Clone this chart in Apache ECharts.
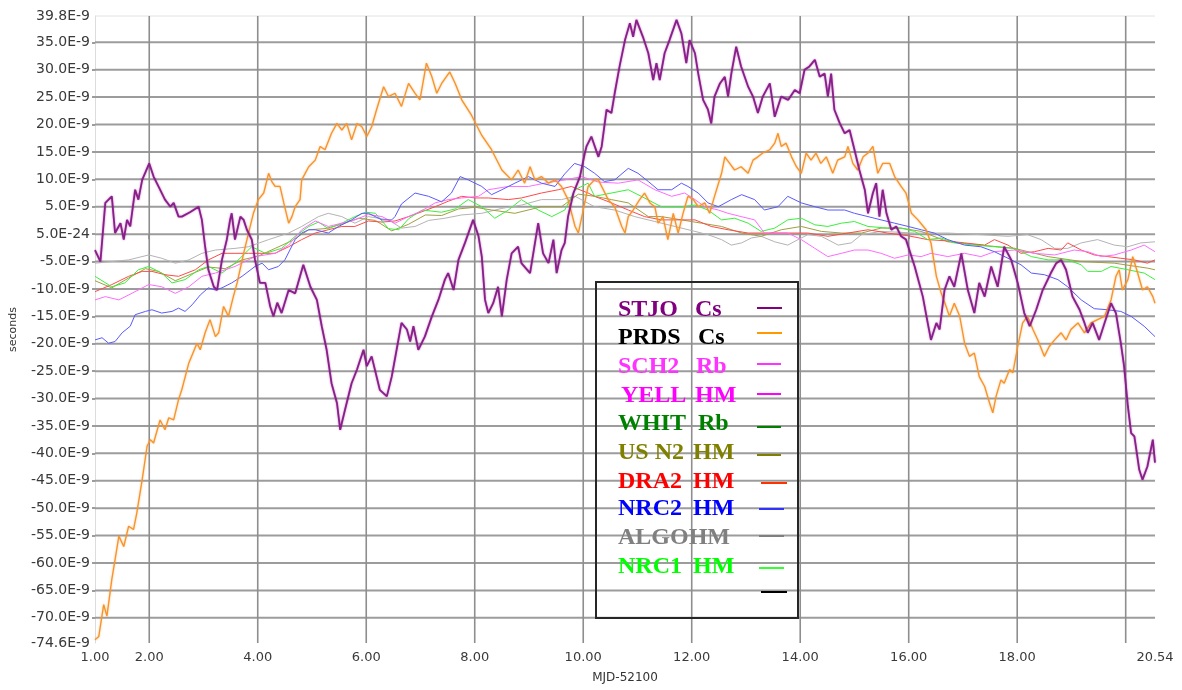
<!DOCTYPE html>
<html>
<head>
<meta charset="utf-8">
<title>Clock offsets</title>
<script src="https://cdn.jsdelivr.net/npm/echarts@6/dist/echarts.min.js"></script>
<style>
  html, body { margin: 0; padding: 0; background: #fff; }
  #chart { width: 1182px; height: 690px; }
</style>
</head>
<body>
<div id="chart"></div>
<script>
// ---- axis ticks -------------------------------------------------------
const xLabelValues = [1, 2, 4, 6, 8, 10, 12, 14, 16, 18, 20.54];
const xGridValues = [2, 4, 6, 8, 10, 12, 14, 16, 18, 20];
const yLabelValues = [-74.6, -70, -65, -60, -55, -50, -45, -40, -35, -30, -25, -20, -15, -10, -5, 0, 5, 10, 15, 20, 25, 30, 35, 39.8];
const yLabelTexts = ['-74.6E-9', '-70.0E-9', '-65.0E-9', '-60.0E-9', '-55.0E-9', '-50.0E-9', '-45.0E-9', '-40.0E-9', '-35.0E-9', '-30.0E-9', '-25.0E-9', '-20.0E-9', '-15.0E-9', '-10.0E-9', '-5.0E-9', '5.0E-24', '5.0E-9', '10.0E-9', '15.0E-9', '20.0E-9', '25.0E-9', '30.0E-9', '35.0E-9', '39.8E-9'];
const yGridValues = [-70, -65, -60, -55, -50, -45, -40, -35, -30, -25, -20, -15, -10, -5, 0, 5, 10, 15, 20, 25, 30, 35];

// ---- legend entries ---------------------------------------------------
const legendNames = ['STJO', 'PRDS', 'SCH2', 'YELL', 'WHIT', 'US N2', 'DRA2', 'NRC2', 'ALGOHM', 'NRC1', ''];
const legendKinds = ['Cs', 'Cs', 'Rb', 'HM', 'Rb', 'HM', 'HM', 'HM', '', 'HM', ''];

// ---- series: [MJD-52100, offset in ns] ----------------------------------
const stjo = [[1.00,-2.9],[1.10,-5.0],[1.19,5.7],[1.31,6.9],[1.37,0.2],[1.47,2.0],[1.53,-1.0],[1.59,2.6],[1.65,1.4],[1.74,8.1],[1.80,6.3],[1.87,9.9],[2.00,12.9],[2.08,10.5],[2.17,8.7],[2.29,6.3],[2.39,5.0],[2.45,5.7],[2.54,3.2],[2.60,3.2],[2.75,4.0],[2.91,5.0],[2.97,2.6],[3.03,-2.3],[3.09,-6.5],[3.19,-9.6],[3.25,-10.2],[3.34,-4.7],[3.43,-1.0],[3.49,2.6],[3.52,3.8],[3.58,-1.0],[3.68,3.2],[3.74,2.6],[3.80,0.8],[3.89,-1.0],[3.95,-4.7],[4.04,-8.9],[4.14,-8.9],[4.23,-13.2],[4.29,-15.0],[4.36,-12.5],[4.44,-14.4],[4.57,-10.2],[4.69,-10.8],[4.84,-5.6],[4.97,-9.6],[5.09,-12.0],[5.18,-16.8],[5.27,-21.1],[5.36,-27.2],[5.46,-30.8],[5.52,-35.7],[5.61,-32.0],[5.73,-27.2],[5.83,-24.7],[5.95,-21.1],[6.01,-24.1],[6.10,-22.3],[6.25,-28.4],[6.38,-29.6],[6.47,-26.0],[6.56,-21.1],[6.65,-16.2],[6.75,-17.4],[6.81,-19.6],[6.87,-16.8],[6.96,-21.1],[7.08,-18.7],[7.21,-15.0],[7.33,-12.0],[7.45,-8.3],[7.51,-7.1],[7.61,-10.2],[7.70,-4.7],[7.82,-1.6],[7.97,2.6],[8.07,-0.4],[8.13,-4.1],[8.19,-12.0],[8.25,-14.4],[8.34,-12.6],[8.43,-9.6],[8.50,-15.0],[8.59,-8.3],[8.68,-3.5],[8.80,-2.3],[8.86,-5.3],[9.02,-7.1],[9.17,2.0],[9.26,-3.5],[9.36,-5.3],[9.45,-1.0],[9.51,-7.1],[9.60,-2.9],[9.66,-1.6],[9.72,3.2],[9.82,7.5],[9.94,10.5],[10.03,14.8],[10.06,16.0],[10.15,17.8],[10.28,14.1],[10.34,16.0],[10.43,22.7],[10.52,22.1],[10.58,25.7],[10.67,30.6],[10.77,35.4],[10.86,38.5],[10.92,36.0],[10.98,39.1],[11.10,36.0],[11.20,33.0],[11.29,28.1],[11.35,31.2],[11.41,28.1],[11.50,33.0],[11.59,35.4],[11.72,39.1],[11.81,36.6],[11.90,31.2],[11.96,35.4],[12.06,33.0],[12.12,29.3],[12.21,24.5],[12.30,22.7],[12.36,20.2],[12.42,25.1],[12.52,27.5],[12.61,28.7],[12.67,25.1],[12.73,29.3],[12.82,34.2],[12.91,30.6],[13.04,26.9],[13.13,25.1],[13.22,22.1],[13.31,25.1],[13.44,27.5],[13.53,21.4],[13.65,25.1],[13.78,24.5],[13.90,26.3],[13.99,25.7],[14.08,30.0],[14.17,30.6],[14.27,31.8],[14.36,28.7],[14.45,29.3],[14.51,25.1],[14.57,29.3],[14.63,22.7],[14.73,20.2],[14.82,18.4],[14.91,19.0],[15.00,15.4],[15.09,11.7],[15.19,8.1],[15.25,3.8],[15.34,7.5],[15.40,9.3],[15.46,3.2],[15.52,8.1],[15.59,3.8],[15.68,0.8],[15.77,1.4],[15.86,-0.4],[15.95,-1.0],[16.11,-5.9],[16.26,-11.4],[16.35,-16.2],[16.41,-19.3],[16.51,-16.2],[16.57,-17.4],[16.66,-10.2],[16.75,-7.7],[16.84,-9.6],[16.97,-3.5],[17.09,-10.2],[17.21,-14.4],[17.30,-8.9],[17.40,-11.4],[17.52,-5.9],[17.64,-9.6],[17.76,-2.3],[17.89,-4.7],[18.01,-8.9],[18.13,-14.4],[18.23,-16.8],[18.35,-13.8],[18.47,-10.2],[18.62,-7.1],[18.72,-5.3],[18.81,-4.7],[18.90,-6.5],[19.02,-11.4],[19.15,-13.8],[19.24,-16.2],[19.30,-18.0],[19.39,-16.2],[19.51,-19.3],[19.61,-16.2],[19.73,-12.6],[19.82,-14.4],[19.91,-19.9],[19.97,-24.1],[20.04,-31.4],[20.10,-36.3],[20.16,-36.9],[20.25,-43.0],[20.31,-44.8],[20.40,-42.4],[20.50,-37.5],[20.54,-41.7]];

const prds = [[1.00,-74.0],[1.07,-73.4],[1.16,-67.6],[1.22,-69.7],[1.31,-63.0],[1.37,-59.4],[1.44,-55.1],[1.53,-57.0],[1.62,-53.3],[1.71,-53.9],[1.77,-50.9],[1.87,-44.8],[1.96,-38.7],[2.02,-37.5],[2.08,-38.1],[2.20,-33.9],[2.29,-35.7],[2.36,-33.5],[2.45,-33.9],[2.54,-30.2],[2.60,-28.4],[2.73,-23.5],[2.88,-19.9],[2.94,-21.1],[3.03,-18.0],[3.12,-15.6],[3.22,-18.7],[3.28,-18.0],[3.37,-13.2],[3.46,-15.0],[3.55,-11.4],[3.62,-8.9],[3.74,-3.5],[3.83,0.2],[3.92,3.8],[4.01,6.3],[4.11,7.5],[4.20,11.1],[4.26,9.6],[4.32,8.7],[4.41,8.7],[4.48,5.7],[4.57,2.0],[4.63,3.2],[4.69,5.0],[4.78,6.3],[4.81,9.9],[4.94,12.3],[5.06,13.5],[5.15,16.0],[5.24,15.4],[5.36,18.4],[5.46,20.2],[5.55,19.0],[5.64,20.2],[5.73,17.2],[5.83,20.2],[5.92,19.6],[6.01,17.8],[6.10,19.6],[6.19,22.7],[6.32,26.9],[6.41,25.1],[6.53,25.7],[6.65,23.3],[6.78,27.5],[6.90,25.7],[6.99,24.5],[7.11,31.2],[7.21,28.7],[7.30,25.7],[7.39,27.5],[7.54,29.6],[7.64,27.5],[7.76,24.5],[7.94,21.7],[8.13,18.0],[8.31,15.4],[8.50,11.7],[8.68,9.9],[8.80,11.7],[8.92,9.3],[9.02,12.3],[9.11,9.9],[9.23,10.5],[9.36,9.3],[9.48,9.9],[9.60,8.7],[9.72,6.3],[9.85,1.4],[9.91,0.2],[10.00,4.4],[10.09,8.7],[10.21,9.9],[10.28,9.9],[10.37,8.1],[10.46,6.3],[10.58,5.0],[10.71,1.4],[10.77,0.2],[10.83,3.2],[10.92,4.4],[11.04,6.3],[11.13,7.5],[11.23,5.7],[11.32,5.0],[11.38,2.0],[11.47,3.2],[11.56,-1.0],[11.66,3.8],[11.75,0.2],[11.84,3.8],[11.93,6.9],[12.03,6.3],[12.12,5.0],[12.24,5.7],[12.33,3.8],[12.42,6.9],[12.55,11.1],[12.61,14.1],[12.70,12.9],[12.79,11.7],[12.91,12.3],[13.04,11.1],[13.13,13.5],[13.22,14.1],[13.31,14.8],[13.44,15.4],[13.53,16.6],[13.59,18.4],[13.65,16.0],[13.74,16.6],[13.84,14.1],[13.93,12.3],[14.02,11.1],[14.11,14.8],[14.20,13.5],[14.29,14.8],[14.38,12.9],[14.48,14.1],[14.60,11.1],[14.69,13.5],[14.82,14.1],[14.88,16.0],[14.97,12.9],[15.06,11.7],[15.16,14.1],[15.25,14.8],[15.34,16.0],[15.43,11.1],[15.52,12.9],[15.65,12.9],[15.74,10.5],[15.86,8.7],[15.95,7.5],[16.05,3.8],[16.17,2.6],[16.32,0.8],[16.41,-1.6],[16.51,-7.7],[16.60,-10.8],[16.69,-13.2],[16.75,-15.0],[16.84,-12.6],[16.94,-15.0],[17.03,-19.9],[17.12,-22.3],[17.21,-21.7],[17.30,-26.0],[17.40,-27.8],[17.49,-30.8],[17.55,-32.6],[17.61,-29.6],[17.70,-26.6],[17.76,-27.2],[17.86,-24.7],[17.92,-25.3],[18.01,-20.5],[18.10,-16.2],[18.19,-15.0],[18.29,-17.4],[18.38,-19.3],[18.50,-22.3],[18.59,-20.5],[18.69,-19.3],[18.81,-18.0],[18.90,-19.3],[18.99,-17.4],[19.12,-16.2],[19.24,-18.0],[19.36,-16.2],[19.48,-15.6],[19.61,-15.0],[19.73,-12.0],[19.82,-7.7],[19.88,-6.5],[19.94,-10.2],[20.04,-8.3],[20.13,-4.1],[20.22,-7.1],[20.31,-10.2],[20.40,-9.6],[20.50,-11.4],[20.54,-12.6]];

const sch2 = [[1.00,-12.0],[1.19,-11.4],[1.44,-12.0],[1.68,-10.8],[1.99,-9.2],[2.23,-9.6],[2.48,-10.8],[2.73,-9.6],[2.97,-7.7],[3.22,-7.1],[3.58,-5.9],[3.95,-4.1],[4.32,-3.5],[4.57,-2.0],[4.81,0.8],[5.06,2.4],[5.30,1.4],[5.55,2.0],[5.79,2.6],[6.04,3.6],[6.29,3.2],[6.53,2.0],[6.78,3.2],[7.03,4.3],[7.27,5.7],[7.51,6.3],[7.76,6.6],[8.07,6.9],[8.25,8.1],[8.62,8.7],[8.99,8.7],[9.29,9.3],[9.66,9.9],[9.97,10.5],[10.28,9.5],[10.65,9.3],[11.01,9.9],[11.32,8.1],[11.63,6.9],[11.87,7.5],[12.06,6.3],[12.24,5.0],[12.49,4.4],[12.67,3.8],[12.91,3.2],[13.16,2.6],[13.34,0.2],[13.53,0.2],[13.77,0.2],[14.02,-1.0],[14.27,-2.6],[14.51,-4.1],[14.76,-3.5],[15.00,-2.9],[15.25,-2.9],[15.49,-3.5],[15.74,-4.4],[15.99,-3.8],[16.23,-4.1],[16.41,-3.5],[16.72,-4.1],[17.03,-3.5],[17.33,-4.1],[17.58,-3.2],[17.95,-2.9],[18.32,-3.5],[18.69,-3.8],[19.05,-2.9],[19.30,-3.2],[19.55,-4.1],[19.79,-3.8],[20.10,-2.9],[20.34,-2.0],[20.54,-3.2]];

const usn2 = [[1.00,-8.5],[1.31,-9.8],[1.62,-8.0],[1.93,-6.3],[2.17,-6.8],[2.48,-8.5],[2.79,-7.2],[3.09,-6.0],[3.40,-6.3],[3.71,-4.7],[4.01,-4.0],[4.32,-2.6],[4.63,-1.2],[4.94,0.8],[5.24,1.0],[5.55,1.8],[5.86,2.9],[6.17,2.5],[6.47,0.6],[6.78,1.8],[7.09,3.5],[7.39,3.4],[7.70,4.6],[8.01,4.9],[8.31,4.4],[8.74,3.8],[9.23,5.0],[9.60,5.0],[9.91,7.3],[10.21,6.9],[10.52,6.3],[10.83,5.7],[11.20,3.2],[11.44,3.2],[11.81,2.6],[12.18,2.0],[12.55,1.4],[12.92,0.2],[13.28,-0.4],[13.65,0.8],[14.02,1.4],[14.39,0.5],[14.76,0.2],[15.13,0.2],[15.49,1.1],[15.86,1.1],[16.23,0.5],[16.72,-1.4],[17.33,-2.0],[17.95,-2.6],[18.57,-4.1],[19.18,-5.0],[19.79,-5.3],[20.40,-6.2],[20.54,-6.5]];

const dra2 = [[1.00,-10.5],[1.31,-9.2],[1.62,-7.7],[1.87,-6.8],[2.05,-6.8],[2.29,-7.4],[2.54,-7.7],[2.85,-6.5],[3.09,-4.7],[3.34,-3.5],[3.58,-3.5],[3.83,-3.5],[4.08,-3.5],[4.32,-3.5],[4.57,-2.3],[4.81,-1.0],[5.06,0.2],[5.30,0.8],[5.55,1.4],[5.79,1.4],[6.04,2.4],[6.29,2.2],[6.53,2.4],[6.78,3.2],[7.03,4.1],[7.27,5.0],[7.51,6.0],[7.76,6.9],[8.01,6.6],[8.25,6.6],[8.62,6.3],[8.86,6.6],[9.23,7.5],[9.54,8.1],[9.78,8.7],[10.09,7.5],[10.21,6.9],[10.52,5.7],[10.83,4.4],[11.13,3.2],[11.44,2.6],[11.75,2.6],[12.06,2.6],[12.36,1.4],[12.67,0.8],[13.04,0.2],[13.41,0.2],[13.77,0.2],[14.14,0.2],[14.51,-0.4],[14.88,0.2],[15.25,0.8],[15.61,0.2],[15.99,-0.3],[16.35,-1.0],[16.66,-1.2],[17.03,-1.6],[17.40,-2.0],[17.58,-1.0],[17.83,-2.0],[18.07,-3.5],[18.32,-3.2],[18.57,-2.6],[18.81,-2.9],[18.93,-1.6],[19.18,-2.9],[19.42,-3.8],[19.67,-4.1],[19.91,-4.4],[20.16,-4.7],[20.40,-5.3],[20.54,-4.7]];

const nrc2 = [[1.00,-19.3],[1.13,-18.9],[1.25,-19.9],[1.37,-19.6],[1.50,-18.0],[1.65,-16.8],[1.74,-14.7],[1.93,-14.1],[2.05,-13.8],[2.23,-14.4],[2.42,-14.1],[2.54,-13.5],[2.66,-14.1],[2.79,-12.9],[2.94,-11.1],[3.09,-9.8],[3.22,-10.2],[3.34,-9.8],[3.52,-8.9],[3.71,-7.7],[3.95,-5.9],[4.08,-5.3],[4.20,-6.5],[4.38,-5.9],[4.50,-4.7],[4.69,-1.0],[4.81,0.2],[4.94,0.8],[5.06,0.8],[5.30,0.2],[5.49,1.4],[5.73,2.6],[5.92,3.8],[6.04,3.8],[6.29,2.6],[6.47,2.6],[6.53,3.2],[6.65,5.5],[6.90,7.5],[7.15,6.9],[7.39,5.9],[7.57,7.5],[7.73,10.5],[7.88,9.9],[8.13,8.7],[8.31,7.2],[8.50,8.1],[8.74,9.3],[8.99,10.5],[9.23,9.3],[9.48,8.7],[9.66,11.0],[9.84,12.9],[10.03,12.3],[10.21,11.1],[10.39,9.6],[10.58,9.9],[10.83,12.0],[11.01,11.1],[11.20,9.6],[11.38,8.1],[11.63,8.1],[11.81,9.3],[11.93,8.7],[12.12,7.5],[12.30,5.7],[12.49,5.0],[12.73,6.3],[12.92,7.2],[13.16,6.3],[13.34,4.4],[13.59,5.0],[13.77,6.9],[14.02,5.7],[14.27,5.0],[14.51,4.4],[14.82,4.4],[15.00,3.8],[15.25,3.2],[15.49,2.6],[15.74,2.0],[15.99,1.4],[16.23,0.8],[16.47,0.2],[16.72,-1.0],[17.03,-2.0],[17.33,-2.3],[17.58,-3.2],[17.83,-4.4],[18.07,-5.6],[18.26,-7.1],[18.50,-7.4],[18.75,-8.3],[18.93,-9.6],[19.18,-12.0],[19.42,-13.6],[19.67,-13.8],[19.91,-14.1],[20.10,-15.0],[20.34,-16.8],[20.54,-18.7]];

const algo = [[1.00,-5.3],[1.31,-5.0],[1.62,-4.7],[1.99,-3.8],[2.23,-4.4],[2.48,-5.3],[2.73,-4.7],[2.97,-3.5],[3.22,-2.9],[3.58,-2.6],[3.83,-2.3],[4.20,-1.0],[4.57,0.2],[4.81,1.4],[5.12,3.2],[5.30,3.8],[5.55,3.2],[5.79,2.0],[6.04,3.2],[6.41,2.6],[6.65,1.1],[6.90,1.4],[7.15,2.5],[7.45,2.9],[7.76,3.5],[8.13,3.8],[8.50,4.7],[8.86,5.3],[9.23,6.3],[9.60,6.3],[9.85,6.9],[10.21,5.0],[10.58,4.4],[10.95,3.2],[11.32,2.3],[11.69,1.4],[12.06,0.5],[12.30,-0.1],[12.55,-1.0],[12.73,-2.0],[12.92,-1.6],[13.10,-0.7],[13.28,-0.4],[13.53,-1.4],[13.77,-2.0],[13.96,-1.0],[14.14,-0.1],[14.39,-0.4],[14.70,-2.0],[14.94,-1.6],[15.13,-0.1],[15.49,0.5],[16.11,0.2],[16.72,0.2],[17.33,-0.1],[17.83,-0.4],[18.19,-0.1],[18.44,-1.0],[18.69,-2.6],[18.93,-2.6],[19.18,-1.6],[19.48,-1.0],[19.79,-2.0],[20.04,-2.3],[20.28,-1.6],[20.54,-1.4]];

const nrc1 = [[1.00,-7.7],[1.31,-9.6],[1.55,-8.9],[1.80,-6.5],[1.99,-5.9],[2.23,-7.1],[2.42,-8.9],[2.66,-8.3],[2.91,-6.5],[3.09,-5.9],[3.34,-7.1],[3.58,-5.3],[3.89,-2.3],[4.14,-3.5],[4.44,-2.6],[4.69,-0.4],[4.94,1.4],[5.12,2.2],[5.30,1.0],[5.55,2.0],[5.79,3.2],[5.99,4.0],[6.17,3.8],[6.41,1.0],[6.60,0.8],[6.78,2.8],[7.03,4.4],[7.21,4.2],[7.39,4.0],[7.64,4.6],[7.88,6.3],[8.13,5.0],[8.37,2.9],[8.62,4.4],[8.86,6.3],[9.17,4.4],[9.42,3.2],[9.66,4.4],[9.85,8.1],[10.09,9.3],[10.21,6.9],[10.83,8.1],[11.07,6.9],[11.44,5.0],[11.81,5.0],[12.06,5.3],[12.30,4.4],[12.55,2.6],[12.79,2.9],[13.04,2.0],[13.28,0.5],[13.53,1.1],[13.77,2.6],[14.02,2.9],[14.27,1.7],[14.51,1.4],[14.76,2.0],[15.00,2.3],[15.25,1.4],[15.61,1.1],[15.86,1.1],[16.11,0.5],[16.35,-1.0],[16.60,-0.7],[16.84,-1.6],[17.21,-2.0],[17.58,-2.3],[17.95,-2.6],[18.26,-4.1],[18.57,-4.7],[18.93,-4.7],[19.18,-5.6],[19.30,-6.8],[19.55,-6.8],[19.73,-5.9],[20.04,-6.5],[20.34,-7.1],[20.54,-8.3]];

// ---- chart ------------------------------------------------------------
const chart = echarts.init(document.getElementById('chart'), null, { renderer: 'canvas' });

const labelFont = 'DejaVu Sans';
const near = (a, b) => Math.abs(a - b) < 1e-6;
const xMin = xLabelValues[0];
const xMax = xLabelValues[xLabelValues.length - 1];
const yMin = yLabelValues[0];
const yMax = yLabelValues[yLabelValues.length - 1];

function lineSeries(name, data, color, width, z, halo) {
  const style = { color: color, width: width };
  if (halo) {
    style.shadowColor = halo;
    style.shadowBlur = 2;
  }
  return {
    name: name,
    type: 'line',
    data: data,
    showSymbol: false,
    symbol: 'none',
    smooth: false,
    clip: false,
    z: z,
    lineStyle: style,
    emphasis: { disabled: true }
  };
}

// grid lines: one two-point segment per tick value, placed by the axis scales
function gridLine(points, color, width) {
  return {
    type: 'line',
    data: points,
    showSymbol: false,
    symbol: 'none',
    silent: true,
    clip: false,
    z: 1,
    lineStyle: { color: color, width: width },
    emphasis: { disabled: true },
    tooltip: { show: false }
  };
}
const hGridSeries = yGridValues.map(v => gridLine([[xMin, v], [xMax, v]], '#9c9c9c', 2));
const vGridSeries = xGridValues.map(v => gridLine([[v, yMin], [v, yMax]], '#8e8e8e', 1.6));
const topBorder = gridLine([[xMin, yMax], [xMax, yMax]], '#e2e2e2', 1);

// legend block, drawn inside the plot area
const legendTextColors = ['#800080', '#000000', '#ff33ff', '#ff00ff', '#008000', '#808000', '#ff0000', '#0000ff', '#808080', '#00ff00', '#000000'];
const legendLineColors = ['#800080', '#ff9900', '#ff33ff', '#ff00ff', '#008000', '#808000', '#ff3300', '#3333ff', '#808080', '#33ff33', '#000000'];
const legendTextY = [310, 338, 367, 396, 424, 453, 482, 509, 538, 567];
const legendKindX = [695, 698, 696, 695, 698, 693, 693, 693, 0, 693];
const legendLineY = [308, 333, 364, 394, 427, 455, 483, 509, 536, 568, 592];
const legendLineX = [[757, 782], [757, 782], [757, 781], [757, 781], [757, 781], [757, 781], [761, 787], [759, 784], [759, 784], [759, 784], [761, 787]];

const graphics = [{
  type: 'rect',
  shape: { x: 596, y: 282, width: 202, height: 336 },
  style: { fill: 'rgba(0,0,0,0)', stroke: '#262626', lineWidth: 2 },
  z: 100
}];
const legendFont = 'bold 24px "Liberation Serif", "Times New Roman", serif';
legendNames.forEach((nm, i) => {
  if (nm) {
    graphics.push({
      type: 'text', x: i === 3 ? 621 : 618, y: legendTextY[i], z: 101,
      style: { text: nm, font: legendFont, fill: legendTextColors[i], textVerticalAlign: 'middle' }
    });
  }
  if (legendKinds[i]) {
    graphics.push({
      type: 'text', x: legendKindX[i], y: legendTextY[i], z: 101,
      style: { text: legendKinds[i], font: legendFont, fill: legendTextColors[i], textVerticalAlign: 'middle' }
    });
  }
  graphics.push({
    type: 'line', z: 101,
    shape: { x1: legendLineX[i][0], y1: legendLineY[i], x2: legendLineX[i][1], y2: legendLineY[i] },
    style: { stroke: legendLineColors[i], lineWidth: 2 }
  });
});

const option = {
  animation: false,
  backgroundColor: '#ffffff',
  grid: {
    left: 93, right: 27, top: 16, bottom: 47,
    show: false
  },
  xAxis: {
    type: 'value',
    min: xMin, max: xMax,
    name: 'MJD-52100',
    nameLocation: 'middle',
    nameGap: 29,
    nameTextStyle: { fontFamily: labelFont, fontSize: 12, color: '#333' },
    axisLine: { show: true, lineStyle: { color: '#dcdcdc', width: 1 } },
    axisTick: { show: true, length: 5, customValues: xGridValues, lineStyle: { color: '#8e8e8e', width: 1.6 } },
    axisLabel: {
      customValues: xLabelValues,
      margin: 8,
      fontFamily: labelFont, fontSize: 13, color: '#3a3a3a',
      formatter: v => v.toFixed(2)
    },
    splitLine: { show: false }
  },
  yAxis: {
    type: 'value',
    min: yMin, max: yMax,
    name: 'seconds',
    nameLocation: 'middle',
    nameGap: 76,
    nameRotate: 90,
    nameTextStyle: { fontFamily: labelFont, fontSize: 11, color: '#333' },
    axisLine: { show: true, lineStyle: { color: '#dcdcdc', width: 1 } },
    axisTick: { show: true, length: 3, customValues: yGridValues, lineStyle: { color: '#9c9c9c', width: 2 } },
    axisLabel: {
      customValues: yLabelValues,
      margin: 5,
      fontFamily: labelFont, fontSize: 14, color: '#3a3a3a',
      formatter: v => {
        const i = yLabelValues.findIndex(t => near(t, v));
        return i >= 0 ? yLabelTexts[i] : '';
      }
    },
    splitLine: { show: false }
  },
  series: [
    topBorder,
    ...hGridSeries,
    ...vGridSeries,
    lineSeries('ALGO HM', algo, '#b4b4b4', 1, 2),
    lineSeries('US N2 HM', usn2, '#a0a040', 1, 3),
    lineSeries('DRA2 HM', dra2, '#ff4a4a', 1, 4),
    lineSeries('NRC1 HM', nrc1, '#3cef3c', 1, 5),
    lineSeries('SCH2 Rb', sch2, '#ff6cff', 1, 6),
    lineSeries('NRC2 HM', nrc2, '#5a5aff', 1, 7),
    lineSeries('PRDS Cs', prds, '#f7932a', 1.3, 8, 'rgba(247,147,42,0.6)'),
    lineSeries('STJO Cs', stjo, '#8a1e8a', 1.8, 9, 'rgba(128,0,128,0.55)')
  ],
  graphic: graphics
};

chart.setOption(option);
</script>
</body>
</html>
